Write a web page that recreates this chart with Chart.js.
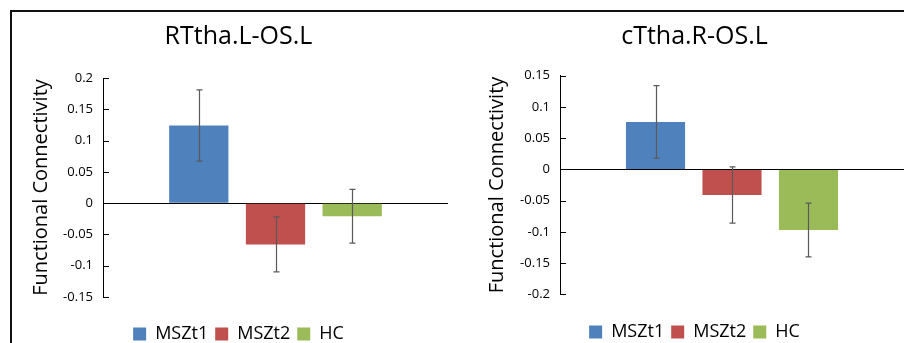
<!DOCTYPE html>
<html>
<head>
<meta charset="utf-8">
<script src="https://cdn.jsdelivr.net/npm/chart.js@4.4.0/dist/chart.umd.min.js"></script>
<style>
  html, body { margin: 0; padding: 0; background: #fff; overflow: hidden; width: 904px; height: 343px; }
  #frame { position: absolute; left: 10px; top: 10px; width: 900px; height: 340px;
           border-top: 2px solid #111; border-left: 2px solid #111; }
  canvas { position: absolute; }
  #c1 { left: 12px; top: 12px; }
  #c2 { left: 480px; top: 12px; }
</style>
</head>
<body>
<div id="frame"></div>
<canvas id="c1" width="450" height="341"></canvas>
<canvas id="c2" width="424" height="339"></canvas>
<script>
// Groups shown in both panels
const groups = ['MSZt1', 'MSZt2', 'HC'];
const groupColors = ['#4F81BD', '#C0504D', '#9BBB59'];
const yAxisTitle = 'Functional Connectivity';

// Panel 1
const leftTitle = 'RTtha.L-OS.L';
const leftMeans = [0.124, -0.066, -0.021];
const leftErrors = [0.057, 0.044, 0.043];
const leftTicks = [-0.15, -0.1, -0.05, 0, 0.05, 0.1, 0.15, 0.2];

// Panel 2
const rightTitle = 'cTtha.R-OS.L';
const rightMeans = [0.076, -0.041, -0.097];
const rightErrors = [0.058, 0.045, 0.043];
const rightTicks = [-0.2, -0.15, -0.1, -0.05, 0, 0.05, 0.1, 0.15];

const FONT = "'Open Sans', 'Noto Sans', sans-serif";

// Error bars (mean ± error) with small caps
const errorBarPlugin = {
  id: 'errorBars',
  afterDatasetsDraw(chart) {
    const ctx = chart.ctx;
    const y = chart.scales.y;
    ctx.save();
    ctx.strokeStyle = '#5a5a5a';
    ctx.lineWidth = 1.2;
    chart.data.datasets.forEach((ds, i) => {
      const meta = chart.getDatasetMeta(i);
      meta.data.forEach((bar, j) => {
        const v = ds.data[j], e = ds.errors[j];
        const x = Math.round(bar.x) + 0.5;
        const yTop = y.getPixelForValue(v + e);
        const yBot = y.getPixelForValue(v - e);
        ctx.beginPath();
        ctx.moveTo(x, yTop); ctx.lineTo(x, yBot);
        ctx.moveTo(x - 3, yTop); ctx.lineTo(x + 3, yTop);
        ctx.moveTo(x - 3, yBot); ctx.lineTo(x + 3, yBot);
        ctx.stroke();
      });
    });
    ctx.restore();
  }
};

// Short tick marks pointing into the plot from the value axis
const innerTicksPlugin = {
  id: 'innerTicks',
  afterDraw(chart) {
    const ctx = chart.ctx;
    const y = chart.scales.y;
    const left = chart.chartArea.left;
    ctx.save();
    ctx.strokeStyle = '#000';
    ctx.lineWidth = 1;
    y.ticks.forEach(t => {
      const py = Math.round(y.getPixelForValue(t.value)) + 0.5;
      ctx.beginPath();
      ctx.moveTo(left, py);
      ctx.lineTo(left + 6, py);
      ctx.stroke();
    });
    ctx.restore();
  }
};

function makeChart(id, title, means, errors, ticks, L) {
  const datasets = groups.map((g, i) => ({
    label: g,
    data: [means[i]],
    errors: [errors[i]],
    backgroundColor: groupColors[i],
    borderColor: groupColors[i],
    borderWidth: 0,
    barPercentage: 0.773,
    categoryPercentage: 0.667
  }));
  return new Chart(document.getElementById(id), {
    type: 'bar',
    data: { labels: [''], datasets },
    plugins: [errorBarPlugin, innerTicksPlugin],
    options: {
      responsive: false,
      animation: false,
      layout: { padding: { left: L.padLeft, right: L.padRight, top: 0, bottom: 0 } },
      plugins: {
        tooltip: { enabled: false },
        title: {
          display: true, text: title, color: '#000',
          font: { family: FONT, size: 25, weight: 'normal' },
          padding: { top: L.titleTop, bottom: L.titleBottom }
        },
        legend: {
          position: 'bottom',
          labels: {
            color: '#000', boxWidth: 13, boxHeight: 13, padding: 7,
            font: { family: FONT, size: 18 }
          }
        }
      },
      scales: {
        x: {
          grid: { display: false },
          border: { display: false },
          ticks: { display: false },
          afterFit(s) { s.height = L.xHeight; }
        },
        y: {
          z: 1,
          min: ticks[0], max: ticks[ticks.length - 1],
          afterBuildTicks(s) { s.ticks = ticks.map(v => ({ value: v })); },
          afterFit(s) { s.width = L.yWidth; },
          grid: {
            drawTicks: false,
            color: c => (c.tick && c.tick.value === 0) ? '#000' : 'rgba(0,0,0,0)',
            lineWidth: 1
          },
          border: { display: true, color: '#000', width: 1 },
          ticks: {
            color: '#000', padding: 10,
            font: { family: FONT, size: 13 },
            callback: v => String(v)
          },
          title: {
            display: true, text: yAxisTitle, color: '#000',
            font: { family: FONT, size: 20 },
            padding: 0
          }
        }
      }
    }
  });
}

makeChart('c1', leftTitle, leftMeans, leftErrors, leftTicks,
  { padLeft: 17, padRight: 14, yWidth: 74, titleTop: 10, titleBottom: 26, xHeight: 21 });
makeChart('c2', rightTitle, rightMeans, rightErrors, rightTicks,
  { padLeft: 5, padRight: 0, yWidth: 75, titleTop: 9.5, titleBottom: 24.2, xHeight: 21.7 });
</script>
</body>
</html>
